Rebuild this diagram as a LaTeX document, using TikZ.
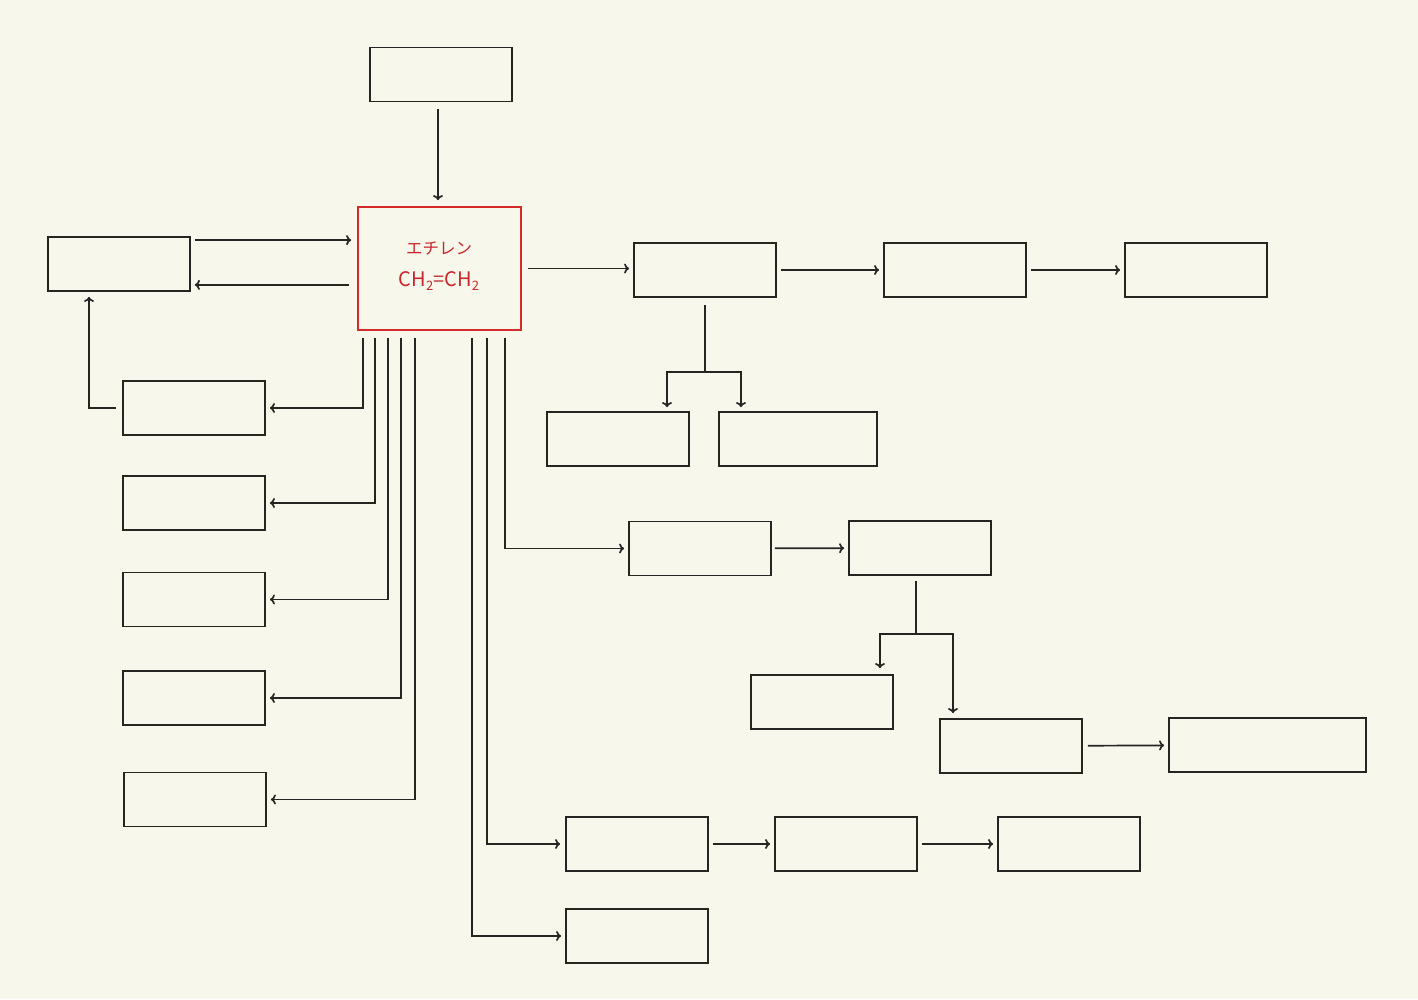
\documentclass[tikz,border=0pt]{standalone}
\usepackage{fontspec}
\newfontfamily\jpfont{Noto Sans CJK JP}
\usetikzlibrary{calc,arrows.meta}
\definecolor{bg}{HTML}{F8F7EC}
\definecolor{ink}{HTML}{262522}
\definecolor{redline}{HTML}{D52A2A}
\definecolor{redtext}{HTML}{C8282C}
\newcommand{\lowtwo}{\raisebox{-0.35ex}{\fontsize{13}{13}\selectfont 2}}
\tikzset{
  box/.style={draw=ink, line width=1.8pt, inner sep=0pt, minimum width=142pt, minimum height=54pt},
  redbox/.style={draw=redline, line width=1.8pt, inner sep=0pt, minimum width=163pt, minimum height=123pt},
  arr/.style={draw=ink, line width=1.7pt, -{To[length=5pt,width=10pt]}},
  ln/.style={draw=ink, line width=1.7pt},
}
\begin{document}
\begin{tikzpicture}[x=1pt,y=-1pt]
\fill[bg] (0,0) rectangle (1418,999);
\useasboundingbox (0,0) rectangle (1418,999);

% nodes
\node[box] (top) at (441,74.5) {};
\node[redbox] (red) at (439.5,268.5) {};
\node[text=redtext, font=\jpfont\fontsize{16.5}{16.5}\selectfont] (lab1) at (439,248) {エチレン};
\node[text=redtext, font=\jpfont\fontsize{20}{20}\selectfont] (lab2) at (439,281) {CH\lowtwo=CH\lowtwo};
\node[box] (left) at (119,264) {};
\node[box] (L1) at (194,408) {};
\node[box] (L2) at (194,503) {};
\node[box] (L3) at (194,599.5) {};
\node[box] (L4) at (194,698) {};
\node[box] (L5) at (195,799.5) {};
\node[box] (R1) at (705,270) {};
\node[box] (R2) at (955,270) {};
\node[box] (R3) at (1196,270) {};
\node[box] (R1a) at (618,439) {};
\node[box, minimum width=158pt] (R1b) at (798,439) {};
\node[box] (M1) at (700,548.5) {};
\node[box] (M2) at (920,548) {};
\node[box] (M2a) at (822,702) {};
\node[box] (M2b) at (1011,746) {};
\node[box, minimum width=197pt] (M2c) at (1267.5,745) {};
\node[box] (B1) at (637,844) {};
\node[box] (B2) at (846,844) {};
\node[box] (B3) at (1069,844) {};
\node[box] (B4) at (637,936) {};

% top -> red
\draw[arr, shorten <=7pt, shorten >=6pt] ([xshift=-3pt]top.south) -- ([xshift=-3pt]top.south |- red.north);
% left <-> red
\draw[arr, shorten <=4pt, shorten >=6pt] ([yshift=-4pt]left.north east) -- ([yshift=-4pt]left.north east -| red.west);
\draw[arr, shorten <=8pt, shorten >=4pt] ([yshift=7pt]left.south east -| red.west) -- ([yshift=7pt]left.south east);
% L1 -> left
\draw[arr, shorten <=6pt, shorten >=5pt] (L1.west) -| ([xshift=-30pt]left.south);
% red bottom branches
\draw[arr, shorten >=4pt] ([xshift=6pt,yshift=-7pt]red.south west) |- (L1.east);
\draw[arr, shorten >=4pt] ([xshift=18pt,yshift=-7pt]red.south west) |- (L2.east);
\draw[arr, shorten >=4pt] ([xshift=31pt,yshift=-7pt]red.south west) |- (L3.east);
\draw[arr, shorten >=4pt] ([xshift=44pt,yshift=-7pt]red.south west) |- (L4.east);
\draw[arr, shorten >=4pt] ([xshift=58pt,yshift=-7pt]red.south west) |- (L5.east);
\draw[arr, shorten >=4pt] ([xshift=115pt,yshift=-7pt]red.south west) |- (B4.west);
\draw[arr, shorten >=5pt] ([xshift=130pt,yshift=-7pt]red.south west) |- (B1.west);
\draw[arr, shorten >=4pt] ([xshift=148pt,yshift=-7pt]red.south west) |- (M1.west);
% red -> R1 -> R2 -> R3
\draw[arr, shorten <=6pt, shorten >=4pt] (red.east) -- (red.east -| R1.west);
\draw[arr, shorten <=4pt, shorten >=4pt] (R1) -- (R2);
\draw[arr, shorten <=4pt, shorten >=4pt] (R2) -- (R3);
% R1 split
\coordinate (s1) at ($(R1.south)+(0,74)$);
\draw[ln, shorten <=7pt] (R1.south) -- (s1);
\draw[arr, shorten >=4pt] (s1) -| ([xshift=49pt]R1a.north);
\draw[arr, shorten >=4pt] (s1) -| ([xshift=-57pt]R1b.north);
% M1 -> M2
\draw[arr, shorten <=3pt, shorten >=4pt] (M1) -- (M2);
% M2 split
\coordinate (s2) at ($(M2.south)+(-4,58)$);
\draw[ln, shorten <=5pt] ([xshift=-4pt]M2.south) -- (s2);
\draw[arr, shorten >=6pt] (s2) -| ([xshift=58pt]M2a.north);
\draw[arr, shorten >=5pt] (s2) -| ([xshift=-58pt]M2b.north);
% M2b -> M2c
\draw[arr, shorten <=5pt, shorten >=4pt] (M2b) -- (M2c);
% B1 -> B2 -> B3
\draw[arr, shorten <=4pt, shorten >=4pt] (B1) -- (B2);
\draw[arr, shorten <=4pt, shorten >=4pt] (B2) -- (B3);
\end{tikzpicture}
\end{document}
